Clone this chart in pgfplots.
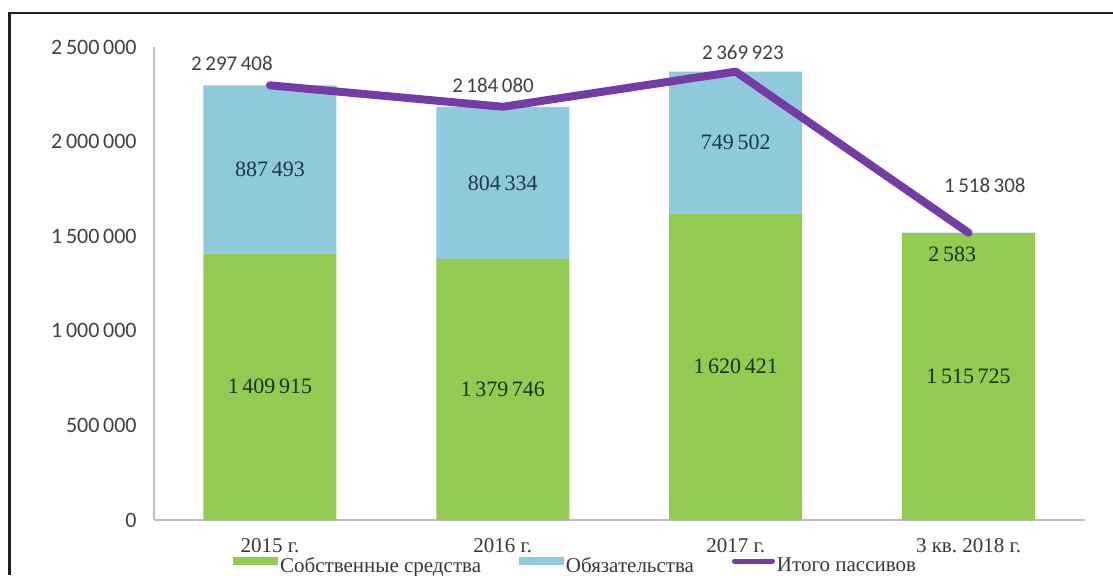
\documentclass[border=0pt]{standalone}
\usepackage{fontspec}
\setmainfont{Liberation Serif}
\newfontfamily\numfont{Carlito}
\usepackage{pgfplots}
\pgfplotsset{compat=1.18}

\definecolor{barGreen}{RGB}{146,202,82}
\definecolor{barBlue}{RGB}{143,201,220}
\definecolor{linePurple}{RGB}{117,60,166}
\definecolor{axisGray}{RGB}{190,190,190}
\definecolor{tickText}{RGB}{64,64,64}
\definecolor{catText}{RGB}{55,55,55}
\definecolor{greenText}{RGB}{28,48,22}
\definecolor{blueText}{RGB}{28,55,78}

\pgfplotsset{
  common/.style={
    at={(76.75pt,-260pt)}, anchor=south west,
    scale only axis, width=465.75pt, height=236.5pt,
    xmin=-0.5, xmax=3.5, ymin=0, ymax=2500000,
  },
}

\begin{document}
\begin{tikzpicture}
\path[use as bounding box] (0pt,0pt) rectangle (556.5pt,-287.5pt);
\draw[line width=1.2pt, black!88] (4.75pt,-287.5pt) -- (4.75pt,-6.35pt) -- (556.5pt,-6.35pt);

% bars and axes
\begin{axis}[common,
  ybar stacked, bar width=66.5pt,
  axis x line*=bottom, axis y line*=left,
  axis line style={draw=axisGray, line width=1pt, -},
  major tick length=0pt,
  xtick={0,1,2,3},
  xticklabels={2015 г., 2016 г., 2017 г., 3 кв.\ 2018 г.},
  ytick={0,500000,1000000,1500000,2000000,2500000},
  scaled y ticks=false,
  /pgf/number format/fixed,
  /pgf/number format/precision=0,
  /pgf/number format/1000 sep={\,},
  /pgf/number format/assume math mode=true,
  yticklabel style={font=\numfont\fontsize{11}{13}\selectfont, text=tickText, inner sep=0pt, xshift=-8.25pt},
  xticklabel style={font=\fontsize{10.5}{12}\selectfont, text=catText, inner sep=0pt, yshift=-9pt},
]
\addplot[fill=barGreen, draw=none] coordinates {(0,1409915) (1,1379746) (2,1620421) (3,1515725)};
\addplot[fill=barBlue, draw=none] coordinates {(0,887493) (1,804334) (2,749502) (3,2583)};
\end{axis}

% total line, labels, legend
\begin{axis}[common, hide axis,
  legend columns=3,
  legend style={at={(0.0853,-0.0973)}, anchor=west, draw=none, fill=none,
    inner sep=0pt, font=\fontsize{10.5}{12}\selectfont, text=catText,
    nodes={inner xsep=1pt, inner ysep=0pt},
    /tikz/every even column/.append style={column sep=18pt}},
]
\addlegendimage{legend image code/.code={\fill[barGreen] (0pt,0.8pt) rectangle (22pt,4.3pt);}}
\addlegendimage{legend image code/.code={\fill[barBlue] (0pt,0.8pt) rectangle (22pt,4.3pt);}}
\addplot[linePurple, line width=4pt, line cap=round, line join=round, mark=none,
  legend image code/.code={\draw[linePurple, line width=2.5pt, line cap=round] (1pt,2.5pt) -- (20pt,2.5pt);}]
  coordinates {(0,2297408) (1,2184080) (2,2369923) (3,1518308)};
\legend{Собственные средства, Обязательства, Итого пассивов}

% labels inside green segments
\addplot[draw=none, forget plot, nodes near coords, point meta=explicit symbolic,
  nodes near coords style={anchor=center, inner sep=0pt, text=greenText, font=\fontsize{11}{13}\selectfont}]
  coordinates {(0,704957) [1\,409\,915] (1,689873) [1\,379\,746] (2,810210) [1\,620\,421] (3,757862) [1\,515\,725]};
% labels inside blue segments
\addplot[draw=none, forget plot, nodes near coords, point meta=explicit symbolic,
  nodes near coords style={anchor=center, inner sep=0pt, text=blueText, font=\fontsize{11}{13}\selectfont}]
  coordinates {(0,1853661) [887\,493] (1,1781913) [804\,334] (2,1995172) [749\,502]};
\addplot[draw=none, forget plot, nodes near coords, point meta=explicit symbolic,
  nodes near coords style={anchor=center, inner sep=0pt, text=greenText, font=\fontsize{11}{13}\selectfont}]
  coordinates {(2.93,1405900) [2\,583]};
% labels of the total line
\addplot[draw=none, forget plot, nodes near coords, point meta=explicit symbolic,
  nodes near coords style={anchor=center, inner sep=0pt, text=tickText, font=\numfont\fontsize{10.5}{12}\selectfont}]
  coordinates {(-0.163,2415400) [2\,297\,408] (0.958,2299150) [2\,184\,080] (2.031,2473600) [2\,369\,923] (3.07,1770600) [1\,518\,308]};
\end{axis}
\end{tikzpicture}
\end{document}
